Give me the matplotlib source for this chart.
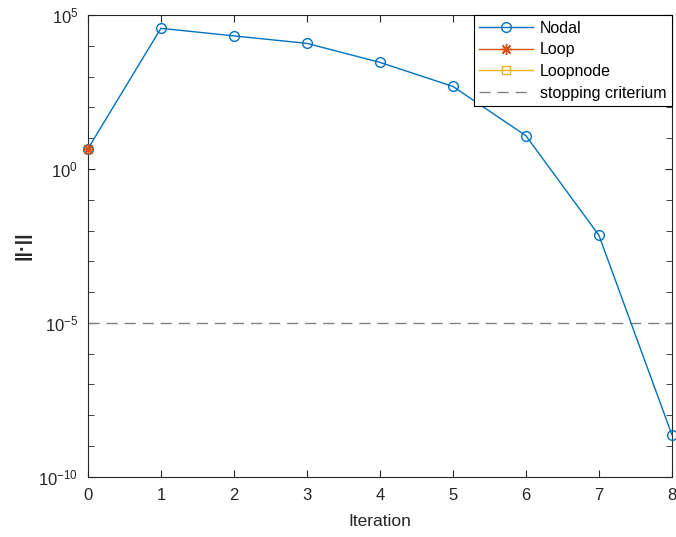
import matplotlib
matplotlib.use("Agg")
import matplotlib.pyplot as plt
from matplotlib.ticker import FixedLocator, NullFormatter

plt.rcParams["font.family"] = ["Liberation Sans", "DejaVu Sans"]
plt.rcParams["mathtext.fontset"] = "custom"
plt.rcParams["mathtext.rm"] = "Liberation Sans"
plt.rcParams["mathtext.it"] = "Liberation Sans"

# residual norm per iteration
iters_nodal = [0, 1, 2, 3, 4, 5, 6, 7, 8]
res_nodal = [4.5, 3.7e4, 2.1e4, 1.2e4, 2.9e3, 480, 12, 7e-3, 2.3e-9]
iters_loop = [0]
res_loop = [4.5]
iters_loopnode = [0]
res_loopnode = [4.5]
tol = 1e-5

ytick_exp = [-10, -5, 0, 5]

BLUE = (0.0, 0.447, 0.741)
ORANGE = (0.85, 0.325, 0.098)
YELLOW = (0.929, 0.694, 0.125)
DARK = (0.15, 0.15, 0.15)

fig = plt.figure(figsize=(6.76, 5.37), dpi=100)
ax = fig.add_axes([0.130, 0.112, 0.864, 0.860])

ax.semilogy(iters_nodal, res_nodal, "-o", color=BLUE, lw=1, ms=7,
            mfc="none", mew=1, label="Nodal", clip_on=False, zorder=3)
ax.semilogy(iters_loop, res_loop, "-", marker=(8, 2, 0), color=ORANGE,
            lw=1, ms=8, mew=1, label="Loop", clip_on=False, zorder=4)
ax.semilogy(iters_loopnode, res_loopnode, "-s", color=YELLOW, lw=1, ms=6,
            mfc="none", mew=1, label="Loopnode", clip_on=False, zorder=2)
ax.axhline(tol, color=(0.5, 0.5, 0.5), lw=1, ls=(0, (8, 5)),
           label="stopping criterium")

ax.set_xlim(0, 8)
ax.set_ylim(1e-10, 1e5)
ax.set_xticks(range(9))
ax.set_yticks([10.0**e for e in ytick_exp])
ax.set_yticklabels([r"$10^{%d}$" % e for e in ytick_exp])
ax.yaxis.set_minor_locator(FixedLocator([10.0**k for k in range(-10, 6)]))
ax.yaxis.set_minor_formatter(NullFormatter())

ax.tick_params(direction="in", which="both", top=True, right=True,
               labelsize=12, colors=DARK, length=5)
ax.tick_params(axis="x", pad=8)
ax.tick_params(axis="y", pad=7)
ax.tick_params(which="minor", length=4)
for s in ax.spines.values():
    s.set_color(DARK)
    s.set_linewidth(0.8)

ax.set_xlabel("Iteration", fontsize=12.5, color=DARK, labelpad=8)
ax.set_ylabel("||·||", fontsize=14, color=DARK, labelpad=5,
              fontweight="bold")

leg = ax.legend(loc="upper right", fontsize=11.5, fancybox=False,
                edgecolor="black", framealpha=1, borderaxespad=0,
                handlelength=3.4, borderpad=0.35, labelspacing=0.42,
                handletextpad=0.4)
leg.get_frame().set_linewidth(0.8)

fig.savefig("out.png", dpi=100)
